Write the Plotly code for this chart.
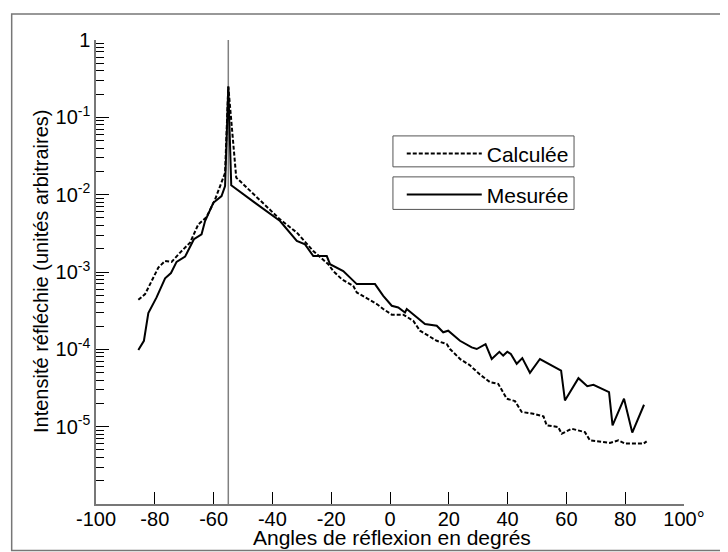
import plotly.graph_objects as go

# ---- data ----
angles_calc = [-85.6, -83.3, -81.6, -78.8, -76.5, -74.3, -71.4, -68.0, -65.2, -62.4, -59.5, -57.3, -56.1,
               -55.0, -52.3, -51.6, -48.7, -37.4, -31.7, -26.1, -21.0, -19.3, -16.4, -12.5, -11.3, -4.5,
               -2.3, 0.6, 4.5, 7.9, 10.2, 15.9, 19.3, 20.4, 24.0, 27.0, 30.6, 34.0, 36.8, 39.7, 42.5,
               44.8, 48.7, 52.2, 53.3, 57.2, 58.4, 61.8, 66.3, 68.0, 74.8, 77.7, 80.0, 86.2, 87.3]
intens_calc = [4.37e-4, 5.18e-4, 6.97e-4, 1.14e-3, 1.39e-3, 1.35e-3, 1.78e-3, 2.4e-3, 4.13e-3, 5.13e-3,
               8.67e-3, 1.42e-2, 1.91e-2, 0.25, 1.66e-2, 1.57e-2, 1.23e-2, 4.79e-3, 3.24e-3, 1.87e-3,
               1.26e-3, 1.03e-3, 8.07e-4, 6.62e-4, 5.43e-4, 3.85e-4, 3.32e-4, 2.81e-4, 2.81e-4, 2.34e-4,
               1.74e-4, 1.29e-4, 1.17e-4, 1.01e-4, 7.4e-5, 6.3e-5, 4.72e-5, 3.77e-5, 3.58e-5, 2.3e-5,
               2.14e-5, 1.55e-5, 1.47e-5, 1.36e-5, 1.04e-5, 9.9e-6, 8.1e-6, 9.4e-6, 8.5e-6, 6.65e-6,
               6.17e-6, 6.65e-6, 6.04e-6, 6.04e-6, 6.46e-6]

angles_meas = [-85.6, -83.7, -82.2, -79.4, -76.5, -74.5, -72.6, -69.7, -66.7, -64.1, -62.9, -60.1, -57.3,
               -56.1, -55.0, -54.0, -46.0, -37.4, -31.7, -28.9, -26.1, -21.5, -20.4, -15.9, -11.3, -5.1,
               -2.3, 0.6, 2.8, 5.1, 5.7, 8.5, 11.9, 15.9, 18.1, 19.8, 23.8, 27.8, 29.5, 32.5, 34.6, 37.2,
               38.5, 39.9, 41.1, 43.1, 45.0, 47.6, 51.0, 58.2, 59.5, 64.1, 67.1, 69.2, 74.5, 75.7, 79.6,
               82.4, 86.4]
intens_meas = [9.8e-5, 1.29e-4, 2.94e-4, 4.69e-4, 8.3e-4, 9.7e-4, 1.35e-3, 1.58e-3, 2.65e-3, 3.07e-3,
               4.56e-3, 7.85e-3, 9.6e-3, 1.29e-2, 0.25, 1.32e-2, 7.9e-3, 4.56e-3, 2.52e-3, 2.28e-3,
               1.61e-3, 1.61e-3, 1.26e-3, 1.03e-3, 6.97e-4, 6.97e-4, 4.92e-4, 3.66e-4, 3.48e-4, 3.0e-4,
               3.32e-4, 2.72e-4, 2.12e-4, 2.02e-4, 1.66e-4, 1.74e-4, 1.29e-4, 1.06e-4, 1.01e-4, 1.17e-4,
               7.5e-5, 9.3e-5, 8.3e-5, 9.3e-5, 8.7e-5, 6.5e-5, 7.7e-5, 4.97e-5, 7.5e-5, 5.3e-5, 2.18e-5,
               4.24e-5, 3.34e-5, 3.48e-5, 2.8e-5, 1.04e-5, 2.3e-5, 8.4e-6, 1.92e-5]

specular_angle = -55

x_tickvals = [-100, -80, -60, -40, -20, 0, 20, 40, 60, 80, 100]
x_ticktext = ["-100", "-80", "-60", "-40", "-20", "0", "20", "40", "60", "80", "100°"]
y_tickvals = [1, 1e-1, 1e-2, 1e-3, 1e-4, 1e-5]
y_ticktext = ["1", "10<sup>-1</sup>", "10<sup>-2</sup>", "10<sup>-3</sup>", "10<sup>-4</sup>", "10<sup>-5</sup>"]
y_minor = [m * 10.0 ** e for e in range(-6, 0) for m in range(2, 10)]

x_title = "Angles de réflexion en degrés"
y_title = "Intensité réfléchie (unités arbitraires)"

FONT = "Liberation Sans, Arial, sans-serif"

fig = go.Figure()
fig.add_trace(go.Scatter(x=angles_calc, y=intens_calc, mode="lines", name="Calculée",
                         line=dict(color="black", width=2, dash="4px,2px"), legend="legend"))
fig.add_trace(go.Scatter(x=angles_meas, y=intens_meas, mode="lines", name="Mesurée",
                         line=dict(color="black", width=2), legend="legend2"))

fig.add_vline(x=specular_angle, line=dict(color="#808080", width=1.5), layer="below")

leg_common = dict(bgcolor="rgba(0,0,0,0)", borderwidth=0,
                  font=dict(family=FONT, size=21, color="black"),
                  itemwidth=75, xanchor="left", yanchor="middle", tracegroupgap=0)
fig.update_layout(
    width=728, height=552,
    margin=dict(l=88, r=52, t=32, b=55.5),
    paper_bgcolor="white", plot_bgcolor="white",
    font=dict(family=FONT, size=20, color="black"),
    showlegend=True,
    legend=dict(x=0.52, y=0.7546, **leg_common),
    legend2=dict(x=0.52, y=0.6663, **leg_common),
    xaxis=dict(range=[-100, 100], tickvals=x_tickvals, ticktext=x_ticktext,
               ticks="inside", ticklen=12, tickcolor="black", tickwidth=1,
               showline=True, linecolor="#777", linewidth=1.5, showgrid=False, zeroline=False,
               tickfont=dict(family=FONT, size=20), automargin=False, ticklabelstandoff=-4),
    yaxis=dict(type="log", range=[-6, 0], tickvals=y_tickvals, ticktext=y_ticktext,
               ticks="inside", ticklen=13, tickcolor="black", tickwidth=1,
               minor=dict(tickvals=y_minor, ticks="inside", ticklen=8, tickcolor="black", tickwidth=1),
               showline=True, linecolor="#777", linewidth=1.5, showgrid=False, zeroline=False,
               tickfont=dict(family=FONT, size=20), automargin=False),
)
# legend frames (two separate boxes as in the reference)
for y0, y1 in [(0.7266, 0.7933), (0.6349, 0.7050)]:
    fig.add_shape(type="rect", xref="paper", yref="paper", x0=0.505, x1=0.813, y0=y0, y1=y1,
                  line=dict(color="#555", width=1), fillcolor="white", layer="below")
# outer frame
fig.add_shape(type="rect", xref="paper", yref="paper", x0=-0.1434, x1=1.0731, y0=-0.1, y1=1.056,
              line=dict(color="#777", width=1.5), fillcolor="rgba(0,0,0,0)", layer="below")

fig.add_annotation(text=x_title, xref="paper", yref="paper", x=0.503, y=-0.072,
                   xanchor="center", yanchor="middle", showarrow=False,
                   font=dict(family=FONT, size=21, color="black"))
fig.add_annotation(text=y_title, xref="paper", yref="paper", x=-0.0935, y=0.5, textangle=-90,
                   xanchor="center", yanchor="middle", showarrow=False,
                   font=dict(family=FONT, size=20, color="black"))

fig.write_html("out.html")
